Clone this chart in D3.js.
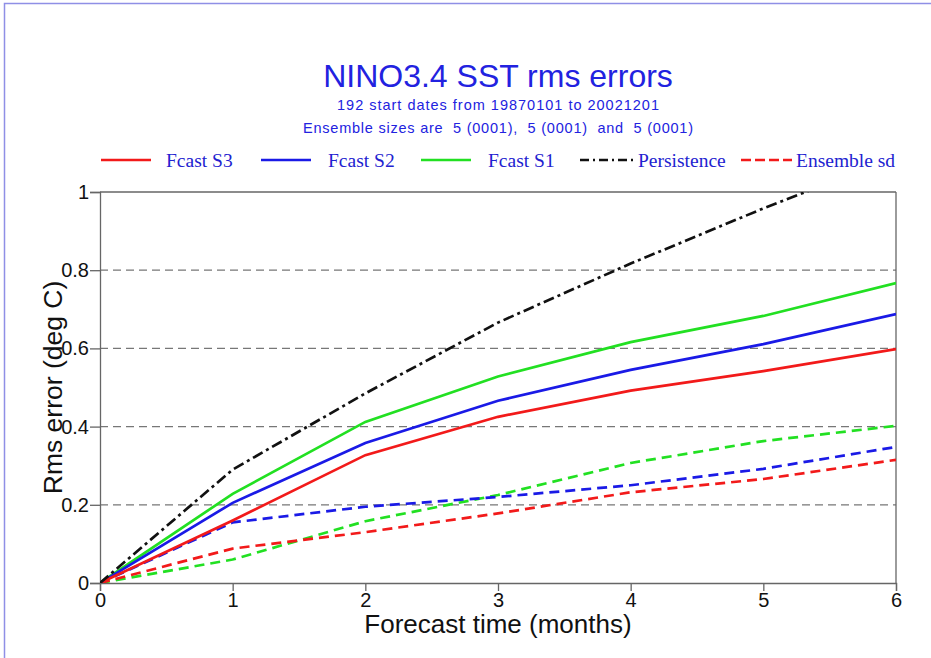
<!DOCTYPE html>
<html>
<head>
<meta charset="utf-8">
<script src="https://cdn.jsdelivr.net/npm/d3@7"></script>
<style>
  body { margin: 0; background: #fff; }
  text { font-family: "Liberation Sans", Arial, sans-serif; }
  .legend text { font-family: "Liberation Serif", "Times New Roman", serif; }
</style>
</head>
<body>
<svg id="chart"></svg>
<script>
// data
const months = [0, 1, 2, 3, 4, 5, 6];
const fcastS3 = [0, 0.16, 0.327, 0.425, 0.492, 0.542, 0.598];
const fcastS2 = [0, 0.205, 0.358, 0.466, 0.545, 0.611, 0.688];
const fcastS1 = [0, 0.228, 0.412, 0.528, 0.616, 0.683, 0.767];
const persistence = [0, 0.29, 0.485, 0.666, 0.817, 0.958, 1.09];
const sdS3 = [0, 0.088, 0.13, 0.178, 0.232, 0.266, 0.315];
const sdS2 = [0, 0.155, 0.195, 0.22, 0.25, 0.292, 0.348];
const sdS1 = [0, 0.06, 0.158, 0.225, 0.307, 0.363, 0.402];
const yTicks = [0, 0.2, 0.4, 0.6, 0.8, 1];
const gridTicks = [0.2, 0.4, 0.6, 0.8];

const width = 931, height = 658;
const margin = { left: 100, right: 35, top: 192, bottom: 75 };

let svg = d3.select('#chart').attr('width', width).attr('height', height);

// outer frame
svg.append('rect')
  .attr('x', 4.5).attr('y', 3.5)
  .attr('width', 960).attr('height', 700)
  .attr('fill', 'none')
  .attr('stroke', '#8f8fe6')
  .attr('stroke-width', 1.5);

let x = d3.scaleLinear().domain([0, 6]).range([margin.left, width - margin.right]);
let y = d3.scaleLinear().domain([0, 1]).range([height - margin.bottom, margin.top]);

svg.append('defs').append('clipPath').attr('id', 'clip')
  .append('rect')
  .attr('x', x(0)).attr('y', y(1))
  .attr('width', x(6) - x(0)).attr('height', y(0) - y(1));

// gridlines
svg.append('g').selectAll('line').data(gridTicks).enter().append('line')
  .attr('x1', x(0)).attr('x2', x(6))
  .attr('y1', d => y(d)).attr('y2', d => y(d))
  .attr('stroke', '#777').attr('stroke-width', 1.2)
  .attr('stroke-dasharray', '8,5');

// axes
let xAxis = svg.append('g')
  .attr('transform', 'translate(0,' + y(0) + ')')
  .call(d3.axisBottom(x).tickValues(months).tickSize(8).tickPadding(-2).tickFormat(d3.format('d')));
let yAxis = svg.append('g')
  .attr('transform', 'translate(' + x(0) + ',0)')
  .call(d3.axisLeft(y).tickValues(yTicks).tickSize(10).tickPadding(1).tickFormat(d => d === 0 || d === 1 ? d : d3.format('.1f')(d)));
[xAxis, yAxis].forEach(a => {
  a.select('.domain').attr('stroke', '#666').attr('stroke-width', 1.3);
  a.selectAll('.tick line').attr('stroke', '#666').attr('stroke-width', 1.3);
  a.selectAll('.tick text').attr('fill', '#111').style('font-size', '20px');
});
xAxis.selectAll('.tick text').attr('dy', '0.9em');

// top and right box edges
svg.append('line')
  .attr('x1', x(0)).attr('x2', x(6)).attr('y1', y(1)).attr('y2', y(1))
  .attr('stroke', '#666').attr('stroke-width', 1.3);
svg.append('line')
  .attr('x1', x(6)).attr('x2', x(6)).attr('y1', y(1)).attr('y2', y(0))
  .attr('stroke', '#666').attr('stroke-width', 1.3);

// series
const series = [
  { name: 'Ensemble sd S1', values: sdS1, color: '#22e022', dash: '10,6' },
  { name: 'Ensemble sd S2', values: sdS2, color: '#1a1ae6', dash: '10,6' },
  { name: 'Ensemble sd', values: sdS3, color: '#f21a1a', dash: '10,6' },
  { name: 'Fcast S1', values: fcastS1, color: '#22e022', dash: null },
  { name: 'Fcast S2', values: fcastS2, color: '#1a1ae6', dash: null },
  { name: 'Fcast S3', values: fcastS3, color: '#f21a1a', dash: null },
  { name: 'Persistence', values: persistence, color: '#111', dash: '11,4,3,4' }
];

let line = d3.line().x((d, i) => x(months[i])).y(d => y(d));

svg.append('g').attr('clip-path', 'url(#clip)')
  .selectAll('path').data(series).enter().append('path')
  .attr('d', d => line(d.values))
  .attr('fill', 'none')
  .attr('stroke', d => d.color)
  .attr('stroke-width', 2.7)
  .attr('stroke-dasharray', d => d.dash);

// titles
let cx = (x(0) + x(6)) / 2;
svg.append('text')
  .attr('x', cx).attr('y', 87)
  .attr('text-anchor', 'middle')
  .attr('fill', '#2222e0')
  .style('font-size', '32px')
  .text('NINO3.4 SST rms errors');
svg.append('text')
  .attr('x', cx).attr('y', 110)
  .attr('text-anchor', 'middle')
  .attr('fill', '#2222e0')
  .style('font-size', '14.5px')
  .attr('textLength', 322).attr('lengthAdjust', 'spacing')
  .text('192 start dates from 19870101 to 20021201');
svg.append('text')
  .attr('x', cx).attr('y', 133)
  .attr('text-anchor', 'middle')
  .attr('fill', '#2222e0')
  .style('font-size', '14.5px')
  .style('white-space', 'pre')
  .attr('xml:space', 'preserve')
  .attr('textLength', 390).attr('lengthAdjust', 'spacing')
  .text('Ensemble sizes are  5 (0001),  5 (0001)  and  5 (0001)');

// legend
const legendItems = [
  { label: 'Fcast S3', color: '#f21a1a', dash: null, x0: 101, x1: 151, tx: 166 },
  { label: 'Fcast S2', color: '#1a1ae6', dash: null, x0: 261, x1: 311, tx: 328 },
  { label: 'Fcast S1', color: '#22e022', dash: null, x0: 421, x1: 471, tx: 488 },
  { label: 'Persistence', color: '#111', dash: '9,4,2,4', x0: 580, x1: 633, tx: 638 },
  { label: 'Ensemble sd', color: '#f21a1a', dash: '10,4', x0: 741, x1: 792, tx: 796 }
];
let legend = svg.append('g').classed('legend', true);
legend.selectAll('line').data(legendItems).enter().append('line')
  .attr('x1', d => d.x0).attr('x2', d => d.x1)
  .attr('y1', 160).attr('y2', 160)
  .attr('stroke', d => d.color).attr('stroke-width', 2.7)
  .attr('stroke-dasharray', d => d.dash);
legend.selectAll('text').data(legendItems).enter().append('text')
  .attr('x', d => d.tx).attr('y', 167)
  .attr('fill', '#2222d0')
  .style('font-size', '19.5px')
  .text(d => d.label);

// axis labels
svg.append('text')
  .attr('x', cx).attr('y', 633)
  .attr('text-anchor', 'middle')
  .attr('fill', '#111')
  .style('font-size', '26px')
  .text('Forecast time (months)');
svg.append('text')
  .attr('transform', 'translate(62,' + (y(0) + y(1)) / 2 + ') rotate(-90)')
  .attr('text-anchor', 'middle')
  .attr('fill', '#111')
  .style('font-size', '26.5px')
  .text('Rms error (deg C)');
</script>
</body>
</html>
